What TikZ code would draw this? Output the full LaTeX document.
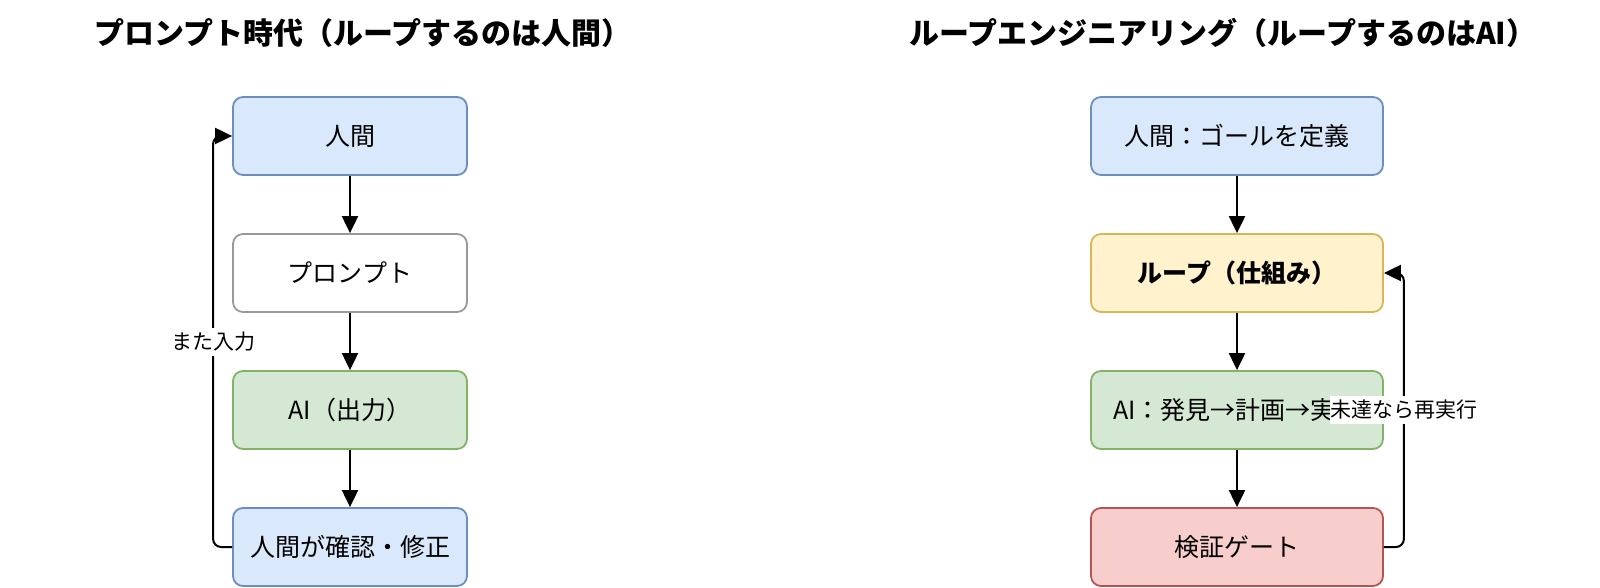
\documentclass[tikz,border=0pt]{standalone}
\usepackage{fontspec}
\setmainfont{Noto Sans CJK JP}
\usetikzlibrary{arrows.meta}
\definecolor{bluefill}{HTML}{DAE8FC}\definecolor{bluedraw}{HTML}{6C8EBF}
\definecolor{greenfill}{HTML}{D5E8D4}\definecolor{greendraw}{HTML}{82B366}
\definecolor{yellowfill}{HTML}{FFF2CC}\definecolor{yellowdraw}{HTML}{D6B656}
\definecolor{redfill}{HTML}{F8CECC}\definecolor{reddraw}{HTML}{B85450}
\definecolor{greydraw}{HTML}{999999}
\begin{document}
\begin{tikzpicture}[x=1pt,y=-1pt,
  box/.style={draw, rounded corners=10pt, line width=1.8pt, minimum height=78pt, inner sep=0pt, text=black, font=\fontsize{25}{30}\selectfont},
  lbox/.style={box, minimum width=234pt},
  rbox/.style={box, minimum width=292pt},
  blue/.style={fill=bluefill, draw=bluedraw},
  green/.style={fill=greenfill, draw=greendraw},
  yellow/.style={fill=yellowfill, draw=yellowdraw},
  red/.style={fill=redfill, draw=reddraw},
  plain/.style={fill=white, draw=greydraw},
  arr/.style={line width=2pt, -{Triangle[length=17pt,width=16pt]}},
  lbl/.style={fill=white, sharp corners, inner xsep=0.5pt, inner ysep=0pt, minimum height=28pt, font=\fontsize{21}{25}\selectfont},
  title/.style={font=\fontsize{30}{36}\selectfont\bfseries}]
\useasboundingbox (0,0) rectangle (1600,588);
\node[title] (t1) at (363,33) {プロンプト時代（ループするのは人間）};
\node[title] (t2) at (1223,33) {ループエンジニアリング（ループするのはAI）};
% left column
\node[lbox, blue] (l1) at (350,136) {人間};
\node[lbox, plain] (l2) at (350,273) {プロンプト};
\node[lbox, green] (l3) at (350,410) {AI（出力）};
\node[lbox, blue] (l4) at (350,547) {人間が確認・修正};
\draw[arr] (l1) -- (l2);
\draw[arr] (l2) -- (l3);
\draw[arr] (l3) -- (l4);
\draw[arr, rounded corners=8pt] (l4.west) -- ++(-19,0) |- node[pos=0.25, lbl] {また入力} (l1.west);
% right column
\node[rbox, blue] (r1) at (1237,136) {人間：ゴールを定義};
\node[rbox, yellow, font=\fontsize{25}{30}\selectfont\bfseries] (r2) at (1237,273) {ループ（仕組み）};
\node[rbox, green] (r3) at (1237,410) {AI：発見→計画→実行};
\node[rbox, red] (r4) at (1237,547) {検証ゲート};
\draw[arr] (r1) -- (r2);
\draw[arr] (r2) -- (r3);
\draw[arr] (r3) -- (r4);
\draw[arr, rounded corners=8pt] (r4.east) -- ++(20,0) |- node[pos=0.25, lbl] {未達なら再実行} (r2.east);
\end{tikzpicture}
\end{document}
